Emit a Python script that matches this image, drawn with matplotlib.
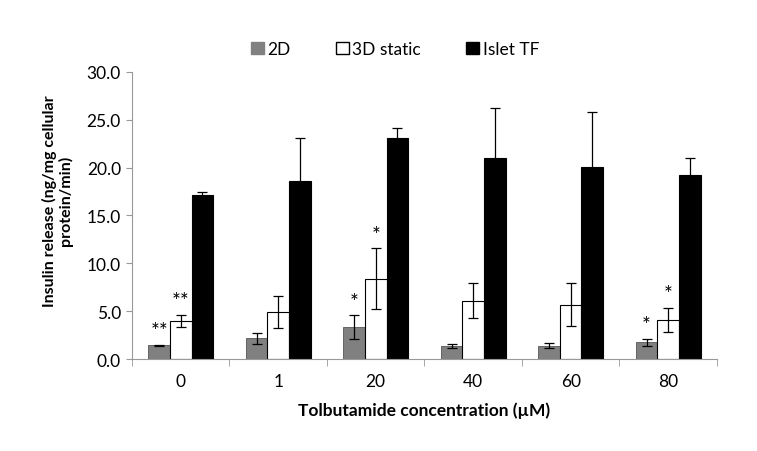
import numpy as np
import matplotlib.pyplot as plt
from matplotlib.patches import Patch

# data
concentrations = ["0", "1", "20", "40", "60", "80"]
mean_2d = [1.45, 2.15, 3.3, 1.4, 1.4, 1.75]
err_2d = [0.05, 0.55, 1.25, 0.2, 0.25, 0.35]
mean_3d = [3.95, 4.9, 8.4, 6.1, 5.65, 4.05]
err_3d = [0.65, 1.7, 3.15, 1.8, 2.25, 1.25]
mean_tf = [17.1, 18.6, 23.1, 21.0, 20.1, 19.2]
err_tf = [0.35, 4.5, 1.05, 5.25, 5.65, 1.8]
stars_2d = ["**", "", "*", "", "", "*"]
stars_3d = ["**", "", "*", "", "", "*"]

plt.rcParams['font.family'] = ['Lato', 'DejaVu Sans']

fig = plt.figure(figsize=(7.57, 4.52), dpi=100)
ax = fig.add_axes([0.1744, 0.2035, 0.7726, 0.6355])

x = np.arange(len(concentrations))
w = 0.222
ekw = dict(ecolor="black", elinewidth=0.9, capsize=3.5, capthick=0.9)

ax.bar(x - w, mean_2d, w, yerr=err_2d, color="#808080", edgecolor="#555555",
       linewidth=0.6, error_kw=ekw, label="2D")
ax.bar(x, mean_3d, w, yerr=err_3d, color="white", edgecolor="black",
       linewidth=0.8, error_kw=ekw, label="3D static")
ax.bar(x + w, mean_tf, w, yerr=err_tf, color="black", edgecolor="black",
       linewidth=0.8, error_kw=ekw, label="Islet TF")

# significance marks above the error bars
for i in range(len(x)):
    if stars_2d[i]:
        ax.text(x[i] - w, mean_2d[i] + err_2d[i] + 0.4, stars_2d[i],
                ha="center", va="bottom", fontsize=15)
    if stars_3d[i]:
        ax.text(x[i], mean_3d[i] + err_3d[i] + 0.4, stars_3d[i],
                ha="center", va="bottom", fontsize=15)

ax.set_xlim(-0.5, len(x) - 0.5)
ax.set_ylim(0, 30)
ax.set_yticks(np.arange(0, 30.1, 5))
ax.set_yticklabels([f"{v:.1f}" for v in np.arange(0, 30.1, 5)], fontsize=12.5)
ax.set_xticks(x)
ax.set_xticklabels(concentrations, fontsize=12.5)
ax.set_xticks(np.arange(-0.5, len(x), 1), minor=True)
ax.tick_params(axis="x", which="major", length=0, pad=10)
ax.tick_params(axis="x", which="minor", length=5, color="#999999", direction="out")
ax.tick_params(axis="y", length=4, color="#999999", direction="out", pad=4)

for s in ["top", "right"]:
    ax.spines[s].set_visible(False)
for s in ["left", "bottom"]:
    ax.spines[s].set_color("#999999")

ax.set_ylabel("Insulin release (ng/mg cellular\nprotein/min)", fontsize=11.5,
              fontweight="bold", linespacing=1.05)
ax.yaxis.set_label_coords(-0.101, 0.553)
ax.set_xlabel("Tolbutamide concentration (µM)", fontsize=12.5, fontweight="bold",
              labelpad=9)

handles = [Patch(facecolor="#808080", edgecolor="#808080", label="2D"),
           Patch(facecolor="white", edgecolor="black", label="3D static"),
           Patch(facecolor="black", edgecolor="black", label="Islet TF")]
fig.legend(handles=handles, loc="center", bbox_to_anchor=(0.522, 0.889), ncol=3,
           frameon=False, fontsize=12.5, handlelength=0.75, handleheight=0.75,
           handletextpad=0.2, columnspacing=2.6)

fig.savefig("out.png", dpi=100)
